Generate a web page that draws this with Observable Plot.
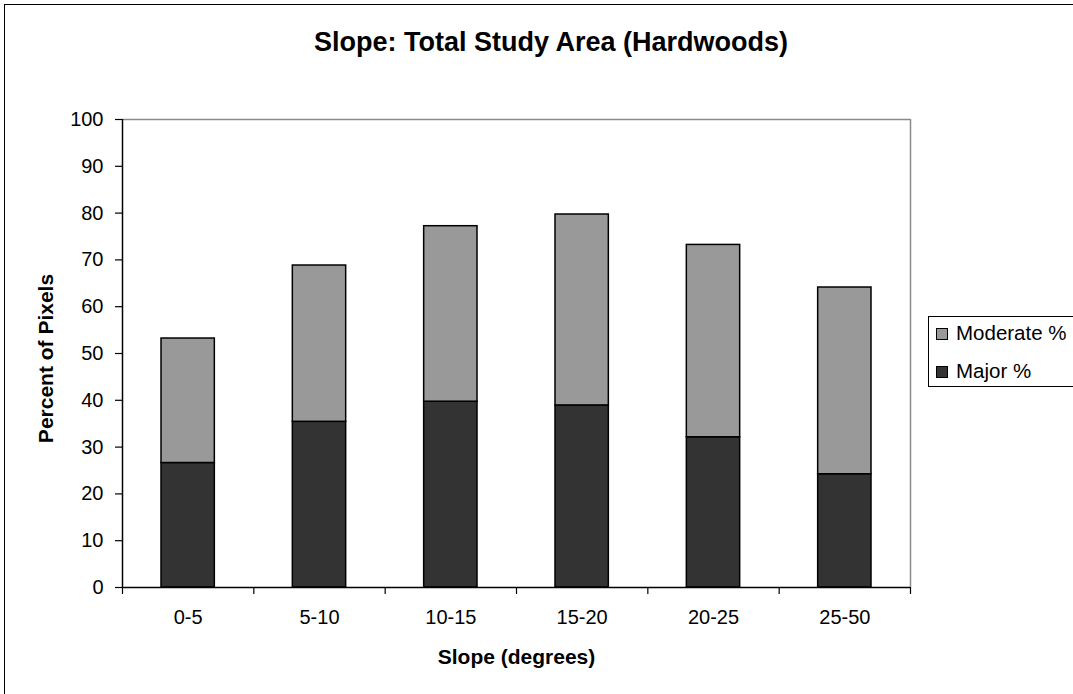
<!DOCTYPE html>
<html>
<head>
<meta charset="utf-8">
<script src="https://cdn.jsdelivr.net/npm/d3@7"></script>
<script src="https://cdn.jsdelivr.net/npm/@observablehq/plot@0.6"></script>
<style>
  html, body { margin: 0; padding: 0; background: #fff; overflow: hidden; }
  #chart { position: relative; width: 1073px; height: 694px; overflow: hidden; font-family: "Liberation Sans", Arial, sans-serif; color: #000; }
  #chart svg { position: absolute; left: 0; top: 0; font-family: "Liberation Sans", Arial, sans-serif; }
  .outline { position: absolute; left: 4px; top: 4px; width: 1100px; height: 720px; border: 1.5px solid #000; box-sizing: border-box; }
  .title { position: absolute; top: 29px; left: 551px; transform: translateX(-50%); white-space: nowrap;
           font-size: 27px; line-height: 27px; font-weight: bold; }
  .legend { position: absolute; left: 928px; top: 316px; width: 200px; height: 71px; border: 1px solid #000; box-sizing: border-box; }
  .legend .item { position: absolute; left: 7px; white-space: nowrap; font-size: 20.5px; line-height: 20.5px; }
  .legend .swatch { display: inline-block; width: 12px; height: 12px; border: 1px solid #000; box-sizing: border-box; margin-right: 8px; vertical-align: 0px; }
</style>
</head>
<body>
<div id="chart">
  <div class="outline"></div>
  <div class="title">Slope: Total Study Area (Hardwoods)</div>
  <div class="legend" id="legend"></div>
</div>
<script>
// Slope classes and the share of pixels in each damage class
const categories = ["0-5", "5-10", "10-15", "15-20", "20-25", "25-50"];
const majorPct = [26.6, 35.4, 39.7, 38.9, 32.1, 24.2];
const moderatePct = [26.6, 33.4, 37.5, 40.8, 41.1, 39.9];
const seriesNames = ["Moderate %", "Major %"];
const seriesColors = ["#999999", "#333333"];
const yTicks = [0, 10, 20, 30, 40, 50, 60, 70, 80, 90, 100];
const xTitle = "Slope (degrees)";
const yTitle = "Percent of Pixels";

// Stacked rows: Major at the bottom, Moderate on top
const rows = [];
categories.forEach((slope, i) => {
  rows.push({slope, series: "Major %", x1: i, x2: i + 1, y1: 0, y2: majorPct[i]});
  rows.push({slope, series: "Moderate %", x1: i, x2: i + 1, y1: majorPct[i], y2: majorPct[i] + moderatePct[i]});
});
const labelPositions = categories.map((_, i) => i + 0.5);
const boundaries = d3.range(categories.length + 1);

const plot = Plot.plot({
  width: 1073,
  height: 694,
  marginLeft: 122,
  marginRight: 163,
  marginTop: 119,
  marginBottom: 107,
  style: {fontFamily: "Liberation Sans, Arial, sans-serif", background: "transparent", overflow: "visible"},
  x: {domain: [0, categories.length]},
  y: {domain: [0, 100]},
  color: {domain: seriesNames, range: seriesColors},
  marks: [
    Plot.rect(rows, {x1: "x1", x2: "x2", y1: "y1", y2: "y2", fill: "series",
      stroke: "#000", strokeWidth: 1.5, insetLeft: 39, insetRight: 39}),
    // plot-area border: grey on top and right, black axis lines on left and bottom
    Plot.ruleY([100], {stroke: "#8a8a8a", strokeWidth: 1.5}),
    Plot.ruleX([categories.length], {stroke: "#8a8a8a", strokeWidth: 1.5}),
    Plot.ruleX([0], {stroke: "#000", strokeWidth: 1.5}),
    Plot.ruleY([0], {stroke: "#000", strokeWidth: 1.5}),
    Plot.axisY({ticks: yTicks, tickSize: 7, tickPadding: 12, fontSize: 20, label: null, stroke: "#000", strokeOpacity: 1, strokeWidth: 1.2, color: "#000"}),
    Plot.axisX({ticks: boundaries, tickSize: 7, tickFormat: () => "", label: null, stroke: "#000", strokeOpacity: 1, strokeWidth: 1.2}),
    Plot.axisX({ticks: labelPositions, tickSize: 0, tickPadding: 22, fontSize: 20, label: null,
      tickFormat: (d) => categories[Math.floor(d)], color: "#000"}),
    Plot.text([yTitle], {frameAnchor: "left", textAnchor: "middle", lineAnchor: "middle", rotate: -90, dx: -76, dy: 5,
      fontSize: 21, fontWeight: "bold", fill: "#000"}),
    Plot.text([xTitle], {frameAnchor: "bottom", textAnchor: "middle", lineAnchor: "middle", dy: 70,
      fontSize: 21, fontWeight: "bold", fill: "#000"})
  ]
});
document.getElementById("chart").insertBefore(plot, document.querySelector(".title"));

// Legend
const legend = document.getElementById("legend");
const legendTops = [6, 44];
seriesNames.forEach((name, i) => {
  const item = document.createElement("div");
  item.className = "item";
  item.style.top = legendTops[i] + "px";
  const sw = document.createElement("span");
  sw.className = "swatch";
  sw.style.background = seriesColors[i];
  item.appendChild(sw);
  item.appendChild(document.createTextNode(name));
  legend.appendChild(item);
});
</script>
</body>
</html>
